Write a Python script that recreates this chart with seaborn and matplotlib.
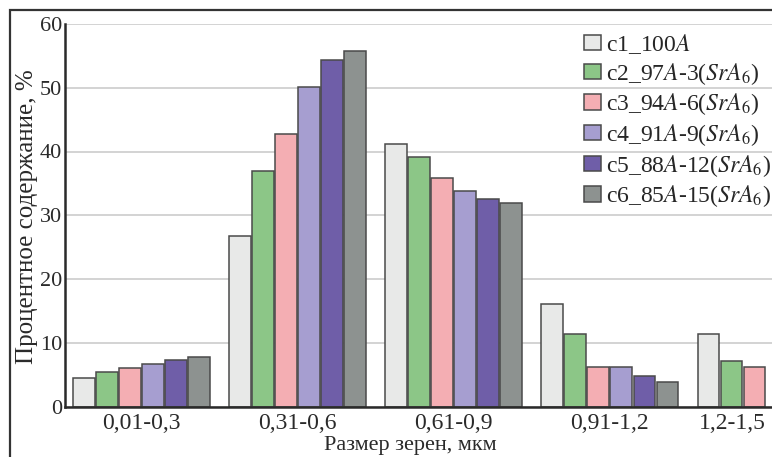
import matplotlib
matplotlib.use("Agg")
import matplotlib.pyplot as plt
from matplotlib.patches import Rectangle
import seaborn as sns
import pandas as pd

# ---- data ----
size_ranges = ["0,01-0,3", "0,31-0,6", "0,61-0,9", "0,91-1,2", "1,2-1,5"]
samples = ["c1", "c2", "c3", "c4", "c5", "c6"]
sample_labels = [
    "c1_100$\\mathit{A}$",
    "c2_97$\\mathit{A}$-3($\\mathit{SrA}_6$)",
    "c3_94$\\mathit{A}$-6($\\mathit{SrA}_6$)",
    "c4_91$\\mathit{A}$-9($\\mathit{SrA}_6$)",
    "c5_88$\\mathit{A}$-12($\\mathit{SrA}_6$)",
    "c6_85$\\mathit{A}$-15($\\mathit{SrA}_6$)",
]
v_c1 = [4.4, 26.7, 41.1, 16.1, 11.3]
v_c2 = [5.4, 36.9, 39.2, 11.4, 7.1]
v_c3 = [6.1, 42.8, 35.9, 6.2, 6.2]
v_c4 = [6.6, 50.1, 33.8, 6.2, None]
v_c5 = [7.3, 54.4, 32.6, 4.8, None]
v_c6 = [7.8, 55.8, 32.0, 3.9, None]
colors = ["#E8E9E8", "#8CC687", "#F4AEB3", "#A69ED0", "#6F5EA8", "#8D9290"]
y_ticks = [0, 10, 20, 30, 40, 50, 60]

rows = []
for s, vals in zip(samples, [v_c1, v_c2, v_c3, v_c4, v_c5, v_c6]):
    for r, v in zip(size_ranges, vals):
        if v is not None:
            rows.append({"range": r, "sample": s, "value": v})
df = pd.DataFrame(rows)

sns.set_style("white")
plt.rcParams["font.family"] = ["Liberation Serif", "DejaVu Serif"]
plt.rcParams["mathtext.fontset"] = "stix"

W, H = 772, 457
fig = plt.figure(figsize=(W / 100, H / 100), dpi=100)
ax = fig.add_axes([65 / W, (H - 406.5) / H, (W - 65) / W, (406.5 - 24) / H])

sns.barplot(data=df, x="range", y="value", hue="sample", order=size_ranges,
            hue_order=samples, palette=colors, width=0.885, gap=0.07,
            edgecolor="#4a4a4a", linewidth=1.1, errorbar=None, ax=ax,
            legend=True, saturation=1)

ax.set_xlim(-0.49, 4.04)
ax.set_ylim(0, 60)
ax.set_yticks(y_ticks)
ax.set_yticklabels([str(t) for t in y_ticks])
ax.set_axisbelow(True)
ax.yaxis.grid(True, color="#c8c8c8", linewidth=1.1)
ax.xaxis.grid(False)

for side in ["top", "right"]:
    ax.spines[side].set_visible(False)
for side in ["left", "bottom"]:
    ax.spines[side].set_color("#2a2a2a")
    ax.spines[side].set_linewidth(1.8)

ax.tick_params(axis="both", length=0, colors="#2a2a2a")
ax.tick_params(axis="y", pad=2, labelsize=16)
ax.tick_params(axis="x", pad=5, labelsize=17)
xt = ax.get_xticklabels()
xt[-1].set_ha("right")

ax.set_xlabel("Размер зерен, мкм", fontsize=16, color="#2a2a2a")
ax.set_ylabel("Процентное содержание, %", fontsize=18, color="#2a2a2a")
ax.xaxis.set_label_coords((410 - 65) / (W - 65), -0.076)
ax.yaxis.set_label_coords(-0.038, 0.497)

handles, _ = ax.get_legend_handles_labels()
ax.legend(handles, sample_labels, loc="upper left",
          bbox_to_anchor=(584 / W, (H - 32) / H), bbox_transform=fig.transFigure,
          frameon=False, fontsize=17, handlelength=0.72, handleheight=0.62,
          handletextpad=0.2, labelspacing=0.2, borderpad=0, borderaxespad=0)

# outer frame of the figure (left & top visible)
fig.patches.append(Rectangle((10 / W, -0.05), 1.2, (H - 10) / H + 0.05,
                             transform=fig.transFigure, fill=False,
                             edgecolor="#333333", linewidth=1.6, clip_on=False))

fig.savefig("out.png", dpi=100)
